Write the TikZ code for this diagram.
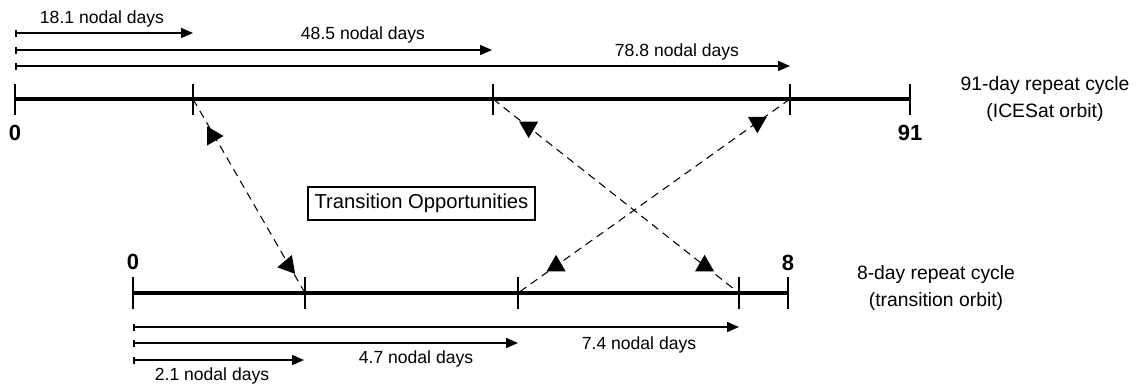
\documentclass[tikz,border=0pt]{standalone}
\usepackage{fontspec}
\setmainfont{Liberation Sans}
\usetikzlibrary{arrows.meta,shapes.geometric}

\begin{document}
\begin{tikzpicture}[x=0.02cm,y=-0.02cm,
  cycleline/.style={line width=2pt,black},
  tickmark/.style={line width=0.9pt},
  span/.style={{Bar[width=1.4mm]}-{Triangle[length=2.4mm,width=2mm]},line width=0.9pt},
  hop/.style={dash pattern=on 1.6mm off 1.1mm,line width=0.6pt},
  tri/.style={regular polygon,regular polygon sides=3,fill=black,minimum size=4.4mm,inner sep=0pt},
  lbl/.style={font=\fontsize{10}{12}\selectfont,inner sep=0pt},
  num/.style={font=\bfseries\fontsize{12.5}{12.5}\selectfont,inner sep=0pt},
  cyc/.style={align=center,font=\fontsize{11}{15.9}\selectfont,inner sep=0pt}
]
\useasboundingbox (0,0) rectangle (1136,386);

% ICESat orbit (91 days)
\coordinate (i0) at (15,99);
\coordinate (i18) at (193,99);
\coordinate (i48) at (493,99);
\coordinate (i78) at (790,99);
\coordinate (i91) at (910,99);
\draw[cycleline] (i0) -- (i91);
\foreach \c in {i0,i18,i48,i78,i91}
  \draw[tickmark] (\c) ++(0,-15) -- ++(0,31);
\node[num] (n0) at (15,133) {0};
\node[num] (n91) at (910,133) {91};
\node[cyc] (icesat) at (1045,99) {91-day repeat cycle\\(ICESat orbit)};

% transition orbit (8 days)
\coordinate (t0) at (133,293);
\coordinate (t21) at (305,293);
\coordinate (t47) at (518,293);
\coordinate (t74) at (739,293);
\coordinate (t8) at (788,293);
\draw[cycleline] (t0) -- (t8);
\foreach \c in {t0,t21,t47,t74,t8}
  \draw[tickmark] (\c) ++(0,-16) -- ++(0,32);
\node[num] (m0) at (133,262) {0};
\node[num] (m8) at (788,263) {8};
\node[cyc] (trans) at (936,288) {8-day repeat cycle\\(transition orbit)};

% nodal day spans
\coordinate (a18) at (15,33);  \coordinate (b18) at (193,33);
\coordinate (a48) at (15,50);  \coordinate (b48) at (492,50);
\coordinate (a78) at (15,66);  \coordinate (b78) at (790,66);
\draw[span] (a18) -- (b18);
\draw[span] (a48) -- (b48);
\draw[span] (a78) -- (b78);
\node[lbl] (l18) at (102,19) {18.1 nodal days};
\node[lbl] (l48) at (363,35) {48.5 nodal days};
\node[lbl] (l78) at (677,52) {78.8 nodal days};

\coordinate (c74) at (133,327); \coordinate (d74) at (739,327);
\coordinate (c47) at (133,343); \coordinate (d47) at (518,343);
\coordinate (c21) at (133,360); \coordinate (d21) at (304,360);
\draw[span] (c74) -- (d74);
\draw[span] (c47) -- (d47);
\draw[span] (c21) -- (d21);
\node[lbl] (l74) at (639,345) {7.4 nodal days};
\node[lbl] (l47) at (416,359) {4.7 nodal days};
\node[lbl] (l21) at (212,376) {2.1 nodal days};

% transition opportunities
\draw[hop] (i18) -- node[tri,pos=0.175,rotate=-90,xshift=0.6mm]{} node[tri,pos=0.845,rotate=100,xshift=-0.5mm]{} (t21);
\draw[hop] (i48) -- node[tri,pos=0.145,rotate=180]{} node[tri,pos=0.86]{} (t74);
\draw[hop] (i78) -- node[tri,pos=0.12,rotate=180]{} node[tri,pos=0.86]{} (t47);
\node[draw,line width=0.8pt,minimum width=4.54cm,minimum height=0.66cm,inner sep=0pt,font=\fontsize{11.5}{13}\selectfont] (box) at (421.5,203.5) {Transition Opportunities};
\end{tikzpicture}
\end{document}
